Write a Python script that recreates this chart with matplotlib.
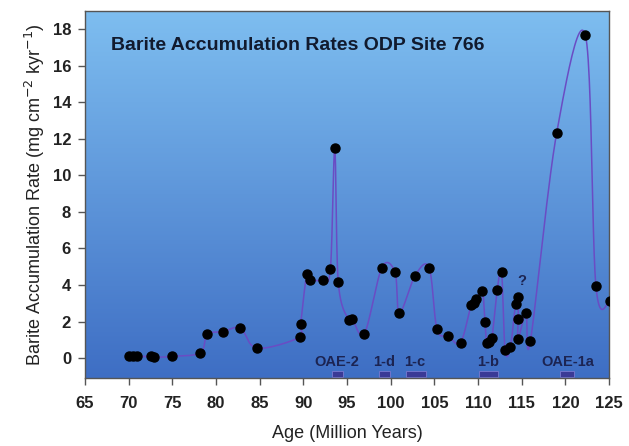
import numpy as np
from matplotlib import pyplot as plt

# barite accumulation data, ODP site 766
age = [70.0, 70.5, 71.0, 72.6, 72.9, 75.0, 78.2, 79.0, 80.8, 82.8, 84.7,
       89.6, 89.7, 90.4, 90.8, 92.2, 93.1, 93.6, 94.0, 95.2, 95.6, 97.0,
       99.0, 100.5, 101.0, 102.8, 104.4, 105.3, 106.6, 108.0, 109.2, 109.5,
       109.8, 110.5, 110.8, 111.0, 111.3, 111.6, 112.2, 112.7, 113.1, 113.7,
       114.3, 114.6, 114.6, 114.6, 115.5, 116.0, 119.0, 122.3, 123.5, 125.1]
rate = [0.1, 0.1, 0.1, 0.1, 0.05, 0.1, 0.3, 1.3, 1.45, 1.65, 0.55,
        1.15, 1.87, 4.63, 4.3, 4.3, 4.87, 11.47, 4.17, 2.08, 2.15, 1.35,
        4.96, 4.7, 2.46, 4.52, 4.96, 1.6, 1.2, 0.85, 2.9, 3.04,
        3.24, 3.68, 1.97, 0.82, 0.89, 1.09, 3.74, 4.7, 0.45, 0.6,
        2.95, 3.35, 2.13, 1.06, 2.46, 0.95, 12.29, 17.65, 3.97, 3.13]

# oceanic anoxic events
oae_labels = ["OAE-2", "1-d", "1-c", "1-b", "OAE-1a"]
oae_start = [93.3, 98.7, 101.8, 110.1, 119.4]
oae_end = [94.5, 99.9, 104.1, 112.3, 121.0]
oae_label_x = [93.8, 99.3, 102.8, 111.2, 120.3]


def catmull_rom(x, y, n=24):
	# smoothed line like the spreadsheet "smooth line" option
	pts = np.column_stack([x, y]).astype(float)
	pts = np.vstack([pts[0], pts, pts[-1]])
	out = []
	for i in range(1, len(pts) - 2):
		p0, p1, p2, p3 = pts[i - 1], pts[i], pts[i + 1], pts[i + 2]
		m1 = (p2 - p0) / 2
		m2 = (p3 - p1) / 2
		t = np.linspace(0, 1, n, endpoint=False)[:, None]
		h00 = 2 * t**3 - 3 * t**2 + 1
		h10 = t**3 - 2 * t**2 + t
		h01 = -2 * t**3 + 3 * t**2
		h11 = t**3 - t**2
		out.append(h00 * p1 + h10 * m1 + h01 * p2 + h11 * m2)
	out.append(pts[-2][None, :])
	out = np.vstack(out)
	return out[:, 0], out[:, 1]


plt.rcParams['font.family'] = ['Liberation Sans', 'DejaVu Sans']

fig = plt.figure(figsize=(6.29, 4.46), dpi=100)
ax = fig.add_axes([0.1351, 0.1525, 0.8331, 0.8235])

ymin, ymax = -1.08, 19.0
ax.set_xlim(65, 125)
ax.set_ylim(ymin, ymax)

# blue gradient background
top = np.array([126, 190, 240]) / 255
bottom = np.array([62, 110, 196]) / 255
grad = np.linspace(0, 1, 256)[:, None]
img = (bottom[None, None, :] * (1 - grad[:, :, None]) + top[None, None, :] * grad[:, :, None])
ax.imshow(img, extent=[0, 1, 0, 1], transform=ax.transAxes, origin='lower',
          aspect='auto', zorder=0)

sx, sy = catmull_rom(age, rate)
ax.plot(sx, sy, color="#6a4cc4", lw=1.1, zorder=2)
ax.plot(age, rate, 'o', color="black", ms=6.5, zorder=3)

for label, s, e, lx in zip(oae_labels, oae_start, oae_end, oae_label_x):
	ax.bar(s, -0.3, bottom=-0.7, width=e - s, align='edge',
	       color="#3a3a96", edgecolor="#7a7ad0", lw=0.6, zorder=2)
	ax.text(lx, -0.2, label, ha='center', va='center', fontsize=10.5,
	        fontweight='bold', color="#1c2452", zorder=3)

ax.text(115.0, 4.2, "?", ha='center', va='center', fontsize=10.5,
        fontweight='bold', color="#1c2452", zorder=3)

ax.text(0.05, 0.905, "Barite Accumulation Rates ODP Site 766", transform=ax.transAxes,
        ha='left', va='center', fontsize=14, fontweight='bold', color="#111a2e")

ax.set_xticks(range(65, 126, 5))
ax.set_yticks(range(0, 19, 2))
ax.tick_params(axis='both', labelsize=12, length=5, width=1, color="#555555")
ax.tick_params(axis='x', pad=8)
ax.tick_params(axis='y', pad=5)
for lab in ax.get_xticklabels() + ax.get_yticklabels():
	lab.set_fontweight('bold')
	lab.set_color("#222222")

for sp in ax.spines.values():
	sp.set_color("#555555")
	sp.set_linewidth(1)

ax.set_xlabel("Age (Million Years)", fontsize=13, color="#222222", labelpad=10)
ax.set_ylabel("Barite Accumulation Rate (mg cm$^{-2}$ kyr$^{-1}$)", fontsize=13,
              color="#222222", labelpad=4)

fig.savefig("out.png", dpi=100)
